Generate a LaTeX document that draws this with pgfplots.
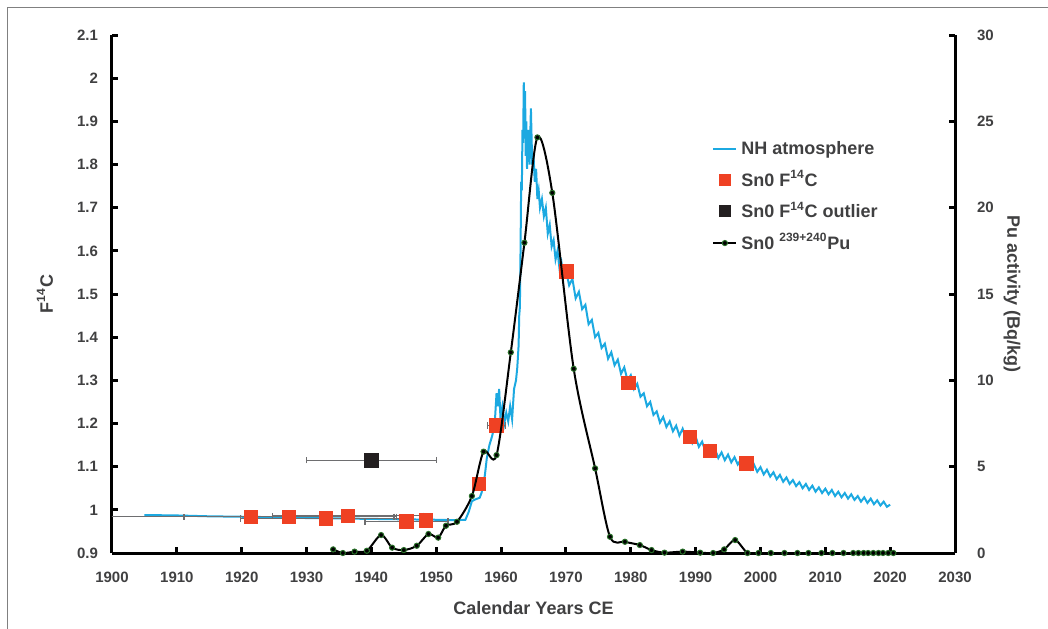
\documentclass[border=0pt]{standalone}
\usepackage{pgfplots}
\pgfplotsset{compat=1.18}
\usepackage{pgfplotstable}
\usepackage{fontspec}
\setmainfont{Liberation Sans}

\definecolor{nhblue}{RGB}{28,169,225}
\definecolor{snred}{RGB}{239,65,35}
\definecolor{snblack}{RGB}{35,31,32}
\definecolor{txt}{RGB}{64,64,65}
\definecolor{errgray}{RGB}{110,110,112}
\definecolor{pugreen}{RGB}{40,110,40}

% NH atmosphere F14C
\pgfplotstableread{
year f
1905 0.988
1910 0.987
1915 0.985
1920 0.984
1925 0.983
1930 0.981
1935 0.980
1940 0.979
1945 0.978
1950 0.977
1953 0.976
1954.5 0.977
1955.0 0.995
1955.5 1.020
1956.0 1.024
1956.7 1.028
1957.0 1.040
1957.5 1.080
1957.8 1.120
1958.2 1.150
1958.6 1.170
1959.0 1.195
1959.3 1.270
1959.5 1.240
1959.7 1.280
1959.9 1.215
1960.2 1.240
1960.5 1.200
1960.8 1.225
1961.1 1.205
1961.4 1.240
1961.7 1.210
1962.0 1.280
1962.3 1.300
1962.5 1.330
1962.7 1.380
1962.8 1.450
1962.9 1.470
1963.0 1.600
1963.1 1.760
1963.2 1.740
1963.3 1.880
1963.4 1.850
1963.5 1.990
1963.6 1.860
1963.7 1.970
1963.8 1.820
1963.9 1.900
1964.0 1.790
1964.2 1.880
1964.4 1.800
1964.6 1.930
1964.8 1.800
1965.0 1.820
1965.2 1.760
1965.4 1.790
1965.6 1.720
1965.8 1.740
1966.0 1.700
1966.3 1.720
1966.6 1.680
1966.9 1.700
1967.2 1.640
1967.5 1.660
1967.8 1.610
1968.1 1.625
1968.4 1.580
1968.7 1.600
1969.0 1.560
1969.3 1.575
1969.6 1.545
1970.0 1.555
1970.5 1.520
1971.0 1.535
1971.5 1.490
1972.0 1.505
1972.5 1.465
1973.0 1.475
1973.5 1.430
1974.0 1.440
1974.5 1.400
1975.0 1.410
1975.5 1.375
1976.0 1.385
1976.5 1.350
1977.0 1.365
1977.5 1.335
1978.0 1.348
1978.5 1.315
1979.0 1.330
1979.5 1.300
1980.0 1.312
1980.5 1.280
1981.0 1.292
1981.5 1.262
1982.0 1.270
1982.5 1.240
1983.0 1.250
1983.5 1.220
1984.0 1.228
1984.5 1.202
1985.0 1.215
1985.5 1.192
1986.0 1.205
1986.5 1.182
1987.0 1.195
1987.5 1.172
1988.0 1.188
1988.5 1.165
1989.0 1.178
1989.5 1.155
1990.0 1.170
1990.5 1.146
1991.0 1.158
1991.5 1.136
1992.0 1.148
1992.5 1.128
1993.0 1.140
1993.5 1.120
1994.0 1.133
1994.5 1.115
1995.0 1.128
1995.5 1.110
1996.0 1.122
1996.5 1.105
1997.0 1.117
1997.5 1.100
1998.0 1.112
1998.5 1.094
1999.0 1.105
1999.5 1.088
2000.0 1.099
2000.5 1.082
2001.0 1.093
2001.5 1.077
2002.0 1.087
2002.5 1.071
2003.0 1.081
2003.5 1.065
2004.0 1.075
2004.5 1.060
2005.0 1.069
2005.5 1.055
2006.0 1.064
2006.5 1.050
2007.0 1.060
2007.5 1.046
2008.0 1.056
2008.5 1.042
2009.0 1.052
2009.5 1.039
2010.0 1.049
2010.5 1.036
2011.0 1.046
2011.5 1.032
2012.0 1.042
2012.5 1.029
2013.0 1.039
2013.5 1.026
2014.0 1.036
2014.5 1.023
2015.0 1.032
2015.5 1.019
2016.0 1.029
2016.5 1.016
2017.0 1.026
2017.5 1.013
2018.0 1.022
2018.5 1.010
2019.0 1.019
2019.5 1.007
2020.0 1.012
}\nhatm

% Sn0 F14C with age uncertainty
\pgfplotstableread{
year f xerr
1921.4 0.984 22.5
1927.3 0.984 16.2
1933.0 0.980 13.2
1936.4 0.986 11.6
1945.4 0.973 6.4
1948.4 0.975 0.6
1956.6 1.060 0.6
1959.3 1.195 1.4
1970.1 1.552 1.1
1979.6 1.294 0.5
1989.1 1.169 0.5
1992.2 1.137 0.5
1997.8 1.108 0.5
}\snc

% Sn0 239+240Pu
\pgfplotstableread{
year pu
1934.1 0.21
1935.6 0.0
1937.4 0.08
1939.3 0.13
1941.5 1.04
1943.2 0.31
1945.0 0.17
1947.0 0.42
1948.8 1.10
1950.3 0.89
1951.5 1.58
1953.2 1.81
1955.5 3.30
1957.3 5.87
1959.3 5.67
1961.5 11.62
1963.6 17.97
1965.6 24.07
1967.9 20.86
1971.2 10.67
1974.5 4.90
1976.8 0.94
1979.1 0.65
1981.4 0.46
1983.2 0.17
1985.2 0.02
1988.0 0.08
1990.7 0.02
1992.7 0.0
1994.4 0.21
1996.1 0.75
1998.0 0.0
1999.7 0
2001.6 0
2003.7 0
2005.7 0
2007.4 0
2009.4 0
2011.1 0
2012.8 0
2014.3 0
2015.1 0
2015.9 0
2016.6 0
2017.4 0
2018.2 0
2018.9 0
2019.7 0
2020.5 0
}\pu

\pgfplotsset{
  base/.style={
    scale only axis, width=421.5pt, height=259pt,
    xmin=1900, xmax=2030,
    axis line style={-, line width=1.5pt, black},
    tick align=inside,
    major tick length=3pt,
    tick style={black, line width=1.5pt},
    tick label style={font=\fontsize{7.5}{9}\selectfont\bfseries, text=txt},
    label style={font=\fontsize{9}{11}\selectfont\bfseries, text=txt},
    /pgf/number format/assume math mode=true,
    /pgf/number format/set thousands separator={},
  },
  agebars/.style={
    error bars/.cd, x dir=both, x explicit, error mark=|,
    error bar style={errgray, line width=0.6pt},
    error mark options={errgray, mark size=1.6pt, line width=0.6pt},
  },
}

\begin{document}
\begin{tikzpicture}
\begin{axis}[base,
  ymin=0.9, ymax=2.1,
  axis x line*=bottom, axis y line*=left,
  xtick={1900,1910,...,2030},
  ytick={0.9,1,1.1,1.2,1.3,1.4,1.5,1.6,1.7,1.8,1.9,2,2.1},
  yticklabel style={xshift=-3.5pt},
  xticklabel style={yshift=-6pt},
  xlabel={Calendar Years CE},
  ylabel={F\textsuperscript{14}C},
  xlabel style={at={(axis description cs:0.5,-0.106)}, anchor=center},
  ylabel style={at={(axis description cs:-0.0795,0.5)}, anchor=center},
]
\addplot[nhblue, line width=1pt] table[x=year, y=f] {\nhatm};
\addplot[only marks, mark=square*, mark size=3.4pt, snred, agebars]
  table[x=year, y=f, x error=xerr] {\snc};
\addplot[only marks, mark=square*, mark size=3.4pt, snblack, agebars]
  coordinates {(1940.0,1.115) +- (10,0)};
\end{axis}

\begin{axis}[base,
  ymin=0, ymax=30,
  axis x line=none, axis y line*=right,
  ytick={0,5,...,30},
  yticklabel style={xshift=7.5pt},
  ylabel={Pu activity (Bq/kg)},
  ylabel style={at={(axis description cs:1.0676,0.5)}, anchor=center, rotate=180},
  clip=false,
  legend cell align=left,
  legend style={at={(0.7046,0.811)}, anchor=north west, draw=none, fill=none,
    font=\fontsize{9}{11}\selectfont\bfseries, text=txt, row sep=2.4pt},
]
\addlegendimage{legend image code/.code={\draw[nhblue, line width=1pt] (0pt,0pt) -- (11.5pt,0pt);}}
\addlegendentry{NH atmosphere}
\addlegendimage{legend image code/.code={\draw[snred] plot[only marks, mark=square*, mark size=2.75pt] coordinates {(5.75pt,0pt)};}}
\addlegendentry{Sn0 F\textsuperscript{14}C}
\addlegendimage{legend image code/.code={\draw[snblack] plot[only marks, mark=square*, mark size=2.75pt] coordinates {(5.75pt,0pt)};}}
\addlegendentry{Sn0 F\textsuperscript{14}C outlier}
\addlegendimage{legend image code/.code={\draw[black, line width=1pt] (0pt,0pt) -- (11.5pt,0pt);
  \draw plot[only marks, mark=*, mark size=1.3pt, mark options={fill=black, draw=pugreen, line width=0.5pt}] coordinates {(5.75pt,0pt)};}}
\addlegendentry{Sn0 \textsuperscript{239+240}Pu}
\addplot[forget plot, black, line width=1pt, smooth, tension=0.5,
  mark=*, mark size=1.3pt, mark options={fill=black, draw=pugreen, line width=0.5pt}]
  table[x=year, y=pu] {\pu};
\end{axis}

\draw[gray, line width=0.5pt] (-52pt,-40pt) -- (-52pt,272.5pt) -- (470pt,272.5pt);
\pgfresetboundingbox
\path[use as bounding box] (-56pt,-37.5pt) rectangle (468pt,276.5pt);
\end{tikzpicture}
\end{document}
